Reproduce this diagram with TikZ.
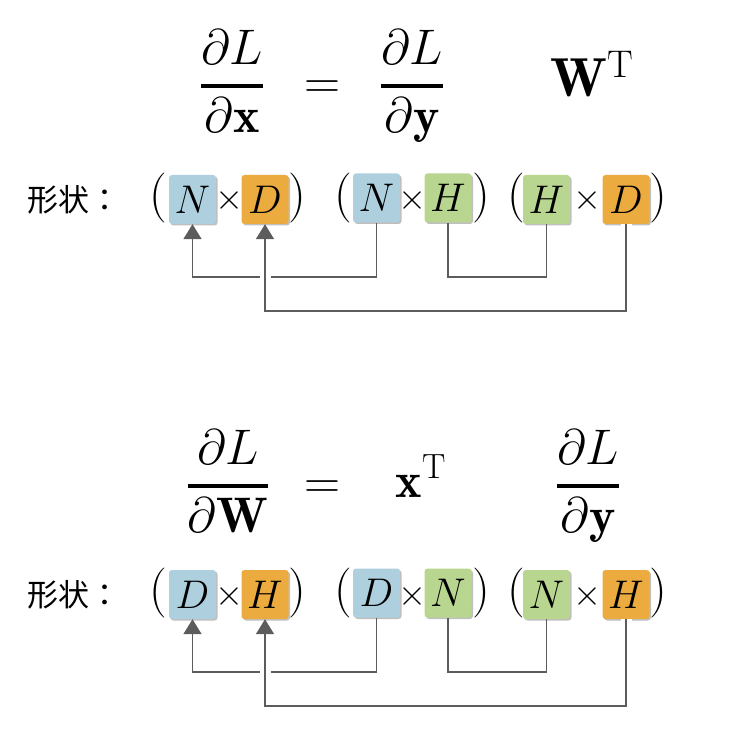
\RequirePackage{fix-cm}
\documentclass[tikz,border=0pt]{standalone}
\usepackage{amsmath}
\usepackage{fontspec}
\newfontfamily\cjkfont{Noto Sans CJK TC}
\usetikzlibrary{arrows.meta,shadows}
\definecolor{boxblue}{HTML}{AED0DE}
\definecolor{boxorange}{HTML}{EBAB3F}
\definecolor{boxgreen}{HTML}{B9D690}
\definecolor{conngray}{HTML}{5C5C5C}
\newcommand{\fr}[2]{\genfrac{}{}{3.2pt}{0}{#1}{#2}}
\tikzset{
  eqn/.style={inner sep=0pt, anchor=base, font=\fontsize{50}{60}\selectfont},
  bigeqn/.style={inner sep=0pt, anchor=base, font=\fontsize{55}{66}\selectfont},
  dimbox/.style={rounded corners=3pt, minimum width=47pt, minimum height=49pt, inner sep=0pt,
    font=\fontsize{40}{48}\selectfont,
    drop shadow={shadow xshift=1.5pt, shadow yshift=-1.5pt, opacity=0.25, fill=black}},
  sym/.style={inner sep=0pt, font=\fontsize{50}{60}\selectfont},
  tms/.style={inner sep=0pt, font=\fontsize{36}{44}\selectfont},
  lbl/.style={inner sep=0pt, anchor=west, font=\cjkfont\fontsize{31}{38}\selectfont},
  conn/.style={draw=conngray, line width=1.6pt},
  arr/.style={-{Triangle[length=15pt,width=18pt]}},
}
\begin{document}
\begin{tikzpicture}[x=1pt,y=-1pt]
\useasboundingbox (0,0) rectangle (740,730);
% ---------- top equation ----------
\node[eqn] (f1) at (232,98.5) {$\fr{\partial L}{\partial\mathbf{x}}$};
\node[eqn] (e1) at (322,98.5) {$=$};
\node[eqn] (f2) at (412,98.5) {$\fr{\partial L}{\partial\mathbf{y}}$};
\node[bigeqn] (w1) at (592,97) {$\mathbf{W}^{\mathrm{T}}$};
% ---------- top shapes ----------
\node[lbl] (s1) at (27,200) {形状：};
\node[sym] (p1o) at (158,198) {(};
\node[dimbox, fill=boxblue] (b1) at (192.5,199.5) {$N$};
\node[tms] (t1) at (229,201) {$\times$};
\node[dimbox, fill=boxorange] (b2) at (265,199.5) {$D$};
\node[sym] (p1c) at (297,198) {)};
\node[sym] (p2o) at (343,198) {(};
\node[dimbox, fill=boxblue] (b3) at (376.5,198) {$N$};
\node[tms] (t2) at (412,201) {$\times$};
\node[dimbox, fill=boxgreen] (b4) at (448,198) {$H$};
\node[sym] (p2c) at (481,198) {)};
\node[sym] (p3o) at (516,198) {(};
\node[dimbox, fill=boxgreen] (b5) at (546.5,199.5) {$H$};
\node[tms] (t3) at (587,201) {$\times$};
\node[dimbox, fill=boxorange] (b6) at (626,199.5) {$D$};
\node[sym] (p3c) at (658,198) {)};
\coordinate (h1) at (0,277);
\coordinate (h2) at (0,311);
\draw[conn, arr] (b3.south) |- (b1.south |- h1) -- (b1.south);
\draw[conn] (b4.south) |- (b5.south |- h1) -- (b5.south);
\draw[conn, arr, preaction={draw=white, line width=11pt, -, shorten >=17pt}] (b6.south) |- (b2.south |- h2) -- (b2.south);
% ---------- bottom equation ----------
\node[eqn] (f3) at (228,498.5) {$\fr{\partial L}{\partial\mathbf{W}}$};
\node[eqn] (e2) at (322,498.5) {$=$};
\node[eqn] (x2) at (421,497) {$\mathbf{x}^{\mathrm{T}}$};
\node[eqn] (f4) at (588,498.5) {$\fr{\partial L}{\partial\mathbf{y}}$};
% ---------- bottom shapes ----------
\node[lbl] (s2) at (27,595) {形状：};
\node[sym] (q1o) at (158,593) {(};
\node[dimbox, fill=boxblue] (c1) at (192.5,594.5) {$D$};
\node[tms] (u1) at (229,596) {$\times$};
\node[dimbox, fill=boxorange] (c2) at (265,594.5) {$H$};
\node[sym] (q1c) at (297,593) {)};
\node[sym] (q2o) at (343,593) {(};
\node[dimbox, fill=boxblue] (c3) at (376.5,593) {$D$};
\node[tms] (u2) at (412,596) {$\times$};
\node[dimbox, fill=boxgreen] (c4) at (448,593) {$N$};
\node[sym] (q2c) at (481,593) {)};
\node[sym] (q3o) at (516,593) {(};
\node[dimbox, fill=boxgreen] (c5) at (546.5,594.5) {$N$};
\node[tms] (u3) at (587,596) {$\times$};
\node[dimbox, fill=boxorange] (c6) at (626,594.5) {$H$};
\node[sym] (q3c) at (658,593) {)};
\coordinate (k1) at (0,672);
\coordinate (k2) at (0,706);
\draw[conn, arr] (c3.south) |- (c1.south |- k1) -- (c1.south);
\draw[conn] (c4.south) |- (c5.south |- k1) -- (c5.south);
\draw[conn, arr, preaction={draw=white, line width=11pt, -, shorten >=17pt}] (c6.south) |- (c2.south |- k2) -- (c2.south);
\end{tikzpicture}
\end{document}
